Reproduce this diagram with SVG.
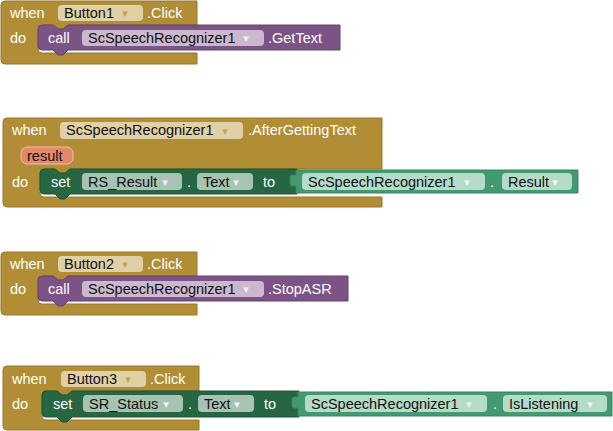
<svg xmlns="http://www.w3.org/2000/svg" width="613" height="431" viewBox="0 0 613 431">
<style>
.ev{fill:#b18e35;stroke:#977628;stroke-width:1}
.call{fill:#7c5385;stroke:#67436f;stroke-width:1}
.set{fill:#266643;stroke:#1d5235;stroke-width:1}
.get{fill:#439970;stroke:#3a8561;stroke-width:1}
.fe{fill:#dfd0a6}
.fc{fill:#cbb8cf}
.fs{fill:#a6c3b3}
.fg{fill:#b3dbc7}
.par{fill:#e2896a;stroke:#f3bfa8;stroke-width:1}
text{font-family:"Liberation Sans",Arial,sans-serif;font-size:14.5px}
.l{fill:#fff}
.t{fill:#111}
.a{font-family:"DejaVu Sans",sans-serif;font-size:11px;text-anchor:middle}
.ae{fill:#c3a258}
.ac{fill:#f2ecf3}
.as{fill:#eef5f1}
.ag{fill:#eef8f3}
</style>
<rect width="613" height="431" fill="#fff"/>
<g id="connectors"></g>

<g id="ev1">
<path class="ev" d="M1,5 A4,4 0 0 1 5,1 H197 V25 H68 l-5,4 h-5 l-5,-4 H42 A4,4 0 0 0 38,29 V49 A4,4 0 0 0 42,53 H197 V64 H5 A4,4 0 0 1 1,60 Z"/>
<text class="l" x="10" y="18">when</text>
<rect class="fe" x="58" y="5" width="85" height="16" rx="4"/>
<text class="t" x="64" y="18">Button1</text>
<text class="a ae" x="125" y="17">▾</text>
<text class="l" x="147" y="18">.Click</text>
<text class="l" x="10" y="43">do</text>
</g>
<g id="call1">
<path class="call" d="M42,25 H53 l5,4 h5 l5,-4 H340 V50 H68 l-5,5 h-5 l-5,-5 H42 A4,4 0 0 1 38,46 V29 A4,4 0 0 1 42,25 Z"/>
<text class="l" x="48" y="43">call</text>
<rect class="fc" x="82" y="30" width="182" height="16" rx="4"/>
<text class="t" x="88" y="43">ScSpeechRecognizer1</text>
<text class="a ac" x="246" y="42">▾</text>
<text class="l" x="268" y="43">.GetText</text>
</g>

<g id="ev2">
<path class="ev" d="M3,122 A4,4 0 0 1 7,118 H382 V169 H70 l-5,4 h-5 l-5,-4 H44 A4,4 0 0 0 40,173 V193 A4,4 0 0 0 44,197 H382 V207 H7 A4,4 0 0 1 3,203 Z"/>
<text class="l" x="12" y="135">when</text>
<rect class="fe" x="60" y="122" width="183" height="17" rx="4"/>
<text class="t" x="66" y="135">ScSpeechRecognizer1</text>
<text class="a ae" x="225" y="135">▾</text>
<text class="l" x="248" y="135">.AfterGettingText</text>
<rect class="par" x="21" y="147" width="52" height="17" rx="6"/>
<text class="t" x="27" y="161">result</text>
<text class="l" x="12" y="187">do</text>
</g>
<g id="set2">
<path class="set" d="M44,169 H55 l5,4 h5 l5,-4 H297 V194 H70 l-5,5 h-5 l-5,-5 H44 A4,4 0 0 1 40,190 V173 A4,4 0 0 1 44,169 Z"/>
<text class="l" x="51" y="187">set</text>
<rect class="fs" x="82" y="173" width="100" height="17" rx="4"/>
<text class="t" x="88" y="187">RS_Result</text>
<text class="a as" x="165" y="186">▾</text>
<text class="l" x="187" y="187">.</text>
<rect class="fs" x="197" y="173" width="56" height="17" rx="4"/>
<text class="t" x="203" y="187">Text</text>
<text class="a as" x="236" y="186">▾</text>
<text class="l" x="263" y="187">to</text>
</g>
<g id="get2">
<path class="get" d="M296,170 H578 V193 H296 V186 h-4 a2,2 0 0 1 -2,-2 v-7 a2,2 0 0 1 2,-2 h4 Z"/>
<rect class="fg" x="302" y="173" width="183" height="17" rx="4"/>
<text class="t" x="308" y="187">ScSpeechRecognizer1</text>
<text class="a ag" x="467" y="186">▾</text>
<text class="l" x="490" y="187">.</text>
<rect class="fg" x="502" y="173" width="70" height="17" rx="4"/>
<text class="t" x="508" y="187">Result</text>
<text class="a ag" x="555" y="186">▾</text>
</g>

<g id="ev3">
<path class="ev" d="M1,256 A4,4 0 0 1 5,252 H197 V276 H68 l-5,4 h-5 l-5,-4 H42 A4,4 0 0 0 38,280 V300 A4,4 0 0 0 42,304 H197 V315 H5 A4,4 0 0 1 1,311 Z"/>
<text class="l" x="10" y="269">when</text>
<rect class="fe" x="58" y="256" width="85" height="16" rx="4"/>
<text class="t" x="64" y="269">Button2</text>
<text class="a ae" x="125" y="268">▾</text>
<text class="l" x="147" y="269">.Click</text>
<text class="l" x="10" y="294">do</text>
</g>
<g id="call3">
<path class="call" d="M42,276 H53 l5,4 h5 l5,-4 H348 V301 H68 l-5,5 h-5 l-5,-5 H42 A4,4 0 0 1 38,297 V280 A4,4 0 0 1 42,276 Z"/>
<text class="l" x="48" y="294">call</text>
<rect class="fc" x="82" y="281" width="182" height="16" rx="4"/>
<text class="t" x="88" y="294">ScSpeechRecognizer1</text>
<text class="a ac" x="246" y="293">▾</text>
<text class="l" x="268" y="294">.StopASR</text>
</g>

<g id="ev4">
<path class="ev" d="M3,370 A4,4 0 0 1 7,366 H199 V391 H72 l-5,4 h-5 l-5,-4 H46 A4,4 0 0 0 42,395 V416 A4,4 0 0 0 46,420 H199 V430 H7 A4,4 0 0 1 3,426 Z"/>
<text class="l" x="12" y="384">when</text>
<rect class="fe" x="61" y="371" width="85" height="16" rx="4"/>
<text class="t" x="67" y="384">Button3</text>
<text class="a ae" x="128" y="383">▾</text>
<text class="l" x="150" y="384">.Click</text>
<text class="l" x="12" y="409">do</text>
</g>
<g id="set4">
<path class="set" d="M46,391 H57 l5,4 h5 l5,-4 H299 V417 H72 l-5,5 h-5 l-5,-5 H46 A4,4 0 0 1 42,413 V395 A4,4 0 0 1 46,391 Z"/>
<text class="l" x="53" y="409">set</text>
<rect class="fs" x="83" y="395" width="100" height="17" rx="4"/>
<text class="t" x="89" y="409">SR_Status</text>
<text class="a as" x="166" y="408">▾</text>
<text class="l" x="188" y="409">.</text>
<rect class="fs" x="198" y="395" width="56" height="17" rx="4"/>
<text class="t" x="204" y="409">Text</text>
<text class="a as" x="237" y="408">▾</text>
<text class="l" x="264" y="409">to</text>
</g>
<g id="get4">
<path class="get" d="M298,392 H612 V416 H298 V408 h-4 a2,2 0 0 1 -2,-2 v-7 a2,2 0 0 1 2,-2 h4 Z"/>
<rect class="fg" x="305" y="395" width="182" height="17" rx="4"/>
<text class="t" x="311" y="409">ScSpeechRecognizer1</text>
<text class="a ag" x="469" y="408">▾</text>
<text class="l" x="493" y="409">.</text>
<rect class="fg" x="503" y="395" width="104" height="17" rx="4"/>
<text class="t" x="509" y="409">IsListening</text>
<text class="a ag" x="590" y="408">▾</text>
</g>
</svg>
